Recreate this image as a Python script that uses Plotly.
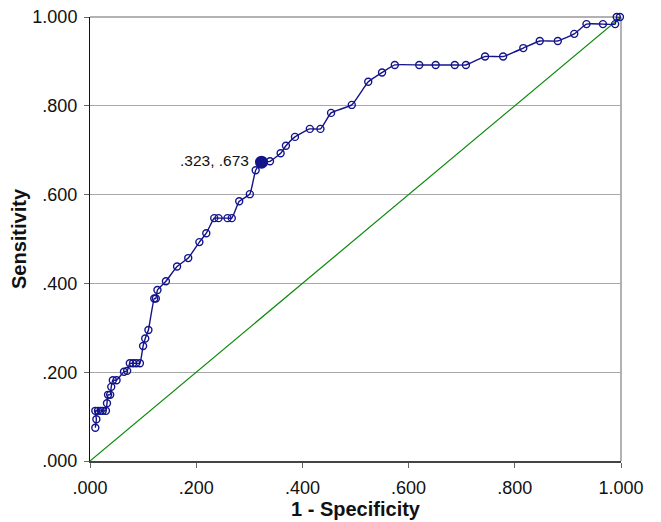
import plotly.graph_objects as go

# ROC curve points (1 - Specificity, Sensitivity)
fpr = [0.010, 0.012, 0.010, 0.015, 0.020, 0.024, 0.030, 0.032, 0.034, 0.038,
       0.040, 0.043, 0.050, 0.064, 0.070, 0.075, 0.081, 0.087, 0.094, 0.100,
       0.104, 0.110, 0.121, 0.124, 0.127, 0.143, 0.164, 0.185, 0.206, 0.219,
       0.234, 0.242, 0.259, 0.267, 0.281, 0.301, 0.312, 0.323, 0.339, 0.359,
       0.369, 0.386, 0.414, 0.434, 0.454, 0.493, 0.524, 0.550, 0.574, 0.620,
       0.651, 0.687, 0.708, 0.744, 0.778, 0.816, 0.847, 0.881, 0.912, 0.935,
       0.966, 0.989, 0.992, 0.998]
tpr = [0.075, 0.094, 0.113, 0.113, 0.113, 0.113, 0.113, 0.130, 0.149, 0.149,
       0.167, 0.182, 0.182, 0.201, 0.203, 0.220, 0.220, 0.220, 0.220, 0.259,
       0.276, 0.295, 0.366, 0.366, 0.385, 0.405, 0.438, 0.457, 0.493, 0.513,
       0.547, 0.547, 0.547, 0.547, 0.585, 0.601, 0.655, 0.673, 0.675, 0.693,
       0.710, 0.730, 0.748, 0.748, 0.784, 0.802, 0.854, 0.875, 0.892, 0.892,
       0.892, 0.892, 0.892, 0.911, 0.911, 0.930, 0.946, 0.946, 0.962, 0.984,
       0.984, 0.984, 1.000, 1.000]

# Reference line
ref_x = [0.0, 1.0]
ref_y = [0.0, 1.0]

# Highlighted cut-off point
best_x = [0.323]
best_y = [0.673]
best_label = ".323, .673"

tick_vals = [0.0, 0.2, 0.4, 0.6, 0.8, 1.0]
tick_text = [".000", ".200", ".400", ".600", ".800", "1.000"]

NAVY = "#14148a"
FONT = "Liberation Sans, Arial, Helvetica, sans-serif"

fig = go.Figure()
fig.add_trace(go.Scatter(
    x=ref_x, y=ref_y, mode="lines",
    line=dict(color="#0a8a0a", width=1.2), hoverinfo="skip", showlegend=False))
fig.add_trace(go.Scatter(
    x=fpr, y=tpr, mode="lines+markers",
    line=dict(color=NAVY, width=1.4, shape="spline", smoothing=0.4),
    marker=dict(symbol="circle-open", size=7, color=NAVY, line=dict(width=1.4)),
    cliponaxis=False, showlegend=False))
fig.add_trace(go.Scatter(
    x=best_x, y=best_y, mode="markers",
    marker=dict(symbol="circle", size=13, color=NAVY),
    cliponaxis=False, showlegend=False))

fig.add_annotation(x=best_x[0], y=best_y[0], text=best_label, showarrow=False,
                   xanchor="right", yanchor="middle", xshift=-11, yshift=2,
                   font=dict(family=FONT, size=15.5, color="#111"))

# page body has an 8px margin, so the figure is sized to fit the window
fig.update_layout(
    width=653, height=514,
    margin=dict(l=82, r=40, t=9, b=61, autoexpand=False),
    paper_bgcolor="white", plot_bgcolor="white",
    font=dict(family=FONT, color="#111"),
    xaxis=dict(range=[0, 1], tickvals=tick_vals, ticktext=tick_text,
               showgrid=False, zeroline=False, automargin=False,
               showline=True, linecolor="#444", linewidth=2,
               ticks="outside", ticklen=5, tickcolor="#666",
               ticklabelstandoff=4, ticklabeloverflow="allow",
               tickfont=dict(size=18, family=FONT, color="#111"),
               title=dict(text="<b>1 - Specificity</b>", standoff=4,
                          font=dict(size=20, family=FONT, color="#111"))),
    yaxis=dict(range=[0, 1], tickvals=tick_vals, ticktext=tick_text,
               showgrid=True, gridcolor="#a8a8a8", gridwidth=1, zeroline=False,
               automargin=False,
               showline=True, linecolor="#111", linewidth=1,
               ticks="outside", ticklen=5, tickcolor="#666",
               ticklabelstandoff=3, ticklabeloverflow="allow",
               tickfont=dict(size=18, family=FONT, color="#111"),
               title=dict(text="<b>Sensitivity</b>", standoff=0,
                          font=dict(size=20, family=FONT, color="#111"))),
    shapes=[
        dict(type="line", xref="paper", yref="paper", x0=0, x1=1, y0=1, y1=1,
             line=dict(color="#999", width=1.5), layer="below"),
        dict(type="line", xref="paper", yref="paper", x0=1, x1=1, y0=0, y1=1,
             line=dict(color="#999", width=1.5), layer="below"),
    ],
)

fig.write_html("out.html")
